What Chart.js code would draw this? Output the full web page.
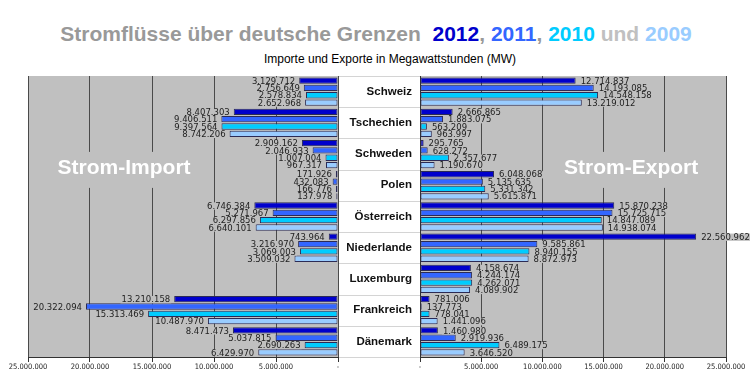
<!DOCTYPE html>
<html lang="de">
<head>
<meta charset="UTF-8">
<title>Stromflüsse über deutsche Grenzen</title>
<script src="https://cdn.jsdelivr.net/npm/chart.js"></script>
<style>
  html, body { margin: 0; padding: 0; background: #fff; overflow: hidden; }
  body { width: 750px; height: 377px; position: relative; font-family: 'Liberation Sans', Arial, sans-serif; }
  #title { position: absolute; left: 0; top: 22px; width: 752px; text-align: center; font-weight: bold;
           font-size: 21px; line-height: 24px; color: #999; white-space: pre; }
  #subtitle { position: absolute; left: 0; top: 52px; width: 780px; text-align: center; font-size: 12px; color: #000; }
  canvas { position: absolute; top: 60px; }
  #importChart { left: 0; }
  #exportChart { left: 338px; }
</style>
</head>
<body>
<div id="title">Stromflüsse über deutsche Grenzen  <span style="color:#0000cc">2012</span>, <span style="color:#3366ff">2011</span>, <span style="color:#00ccff">2010</span> <span style="color:#c0c0c0">und</span> <span style="color:#99ccff">2009</span></div>
<div id="subtitle">Importe und Exporte in Megawattstunden (MW)</div>
<canvas id="importChart" width="341" height="317"></canvas>
<canvas id="exportChart" width="412" height="317"></canvas>

<script>
const countries = ['Schweiz', 'Tschechien', 'Schweden', 'Polen', 'Österreich', 'Niederlande', 'Luxemburg', 'Frankreich', 'Dänemark'];
const years = ['2012', '2011', '2010', '2009'];
const yearColors = ['#0000cc', '#3366ff', '#00ccff', '#99ccff'];

// Strom-Import (MWh)
const import2012 = [3129712, 8407303, 2909162, 171926, 6746384, 743964, 0, 13210158, 8471473];
const import2011 = [2756649, 9406511, 2046933, 432083, 5271967, 3216970, 0, 20322094, 5037815];
const import2010 = [2578834, 9397564, 1007004, 166776, 6297856, 3069003, 0, 15313469, 2690263];
const import2009 = [2652968, 8742206, 967317, 137978, 6640101, 3509032, 0, 10487970, 6429970];

// Strom-Export (MWh)
const export2012 = [12714837, 2666865, 295765, 6048068, 15870238, 22560962, 4158674, 781006, 1460980];
const export2011 = [14193085, 1883075, 628272, 5135635, 15725715, 9585861, 4244174, 137773, 2919936];
const export2010 = [14548158, 563209, 2357677, 5331342, 14847089, 8940155, 4262071, 778041, 6489175];
const export2009 = [13219012, 963997, 1190670, 5615871, 14938074, 8872973, 4089902, 1441096, 3646520];

const axisMax = 25000000;
const axisStep = 5000000;

function fmt(v) {
  if (v === 0) return '-';
  return String(v).replace(/\B(?=(\d{3})+(?!\d))/g, '.');
}

function makeDatasets(series) {
  return series.map((data, i) => ({
    label: years[i],
    data: data,
    backgroundColor: yearColors[i],
    borderColor: '#2b2b55',
    borderWidth: 1,
    borderSkipped: false,
    categoryPercentage: 0.94,
    barPercentage: 0.86
  }));
}

// grey plot background
const plotBackground = {
  id: 'plotBackground',
  beforeDraw(chart) {
    const a = chart.chartArea, ctx = chart.ctx;
    ctx.save();
    ctx.fillStyle = '#c0c0c0';
    ctx.fillRect(a.left, a.top, a.right - a.left, a.bottom - a.top);
    ctx.restore();
  }
};

// big white caption inside the plot
const sideCaption = {
  id: 'sideCaption',
  beforeDatasetsDraw(chart, args, opts) {
    const a = chart.chartArea, ctx = chart.ctx;
    const cx = a.left + (a.right - a.left) * opts.fx;
    const cy = a.top + (a.bottom - a.top) * 0.327;
    ctx.save();
    ctx.font = "bold 21px 'Liberation Sans', Arial, sans-serif";
    const w = ctx.measureText(opts.text).width;
    ctx.fillStyle = '#c0c0c0';
    ctx.fillRect(cx - w / 2 - 6, cy - 16, w + 12, 36);
    ctx.fillStyle = '#fff';
    ctx.textAlign = 'center';
    ctx.textBaseline = 'middle';
    ctx.fillText(opts.text, cx, cy);
    ctx.restore();
  }
};

// value labels next to the bar ends
const valueLabels = {
  id: 'valueLabels',
  afterDatasetsDraw(chart, args, opts) {
    const ctx = chart.ctx;
    ctx.save();
    ctx.font = "8.5px 'DejaVu Sans', Verdana, sans-serif";
    ctx.textBaseline = 'middle';
    ctx.textAlign = 'left';
    chart.data.datasets.forEach((ds, i) => {
      chart.getDatasetMeta(i).data.forEach((bar, j) => {
        const v = ds.data[j];
        if (!v) return;
        const text = fmt(v);
        const w = ctx.measureText(text).width;
        const h = bar.height;
        const x = opts.side === 'left' ? bar.x - 4 - w : bar.x + 5;
        ctx.fillStyle = '#c0c0c0';
        ctx.fillRect(x - 1, bar.y - h / 2, w + 2, h + 1);
        ctx.fillStyle = '#222';
        ctx.fillText(text, x, bar.y + 1);
      });
    });
    ctx.restore();
  }
};

// row separators in the country column
const rowLines = {
  id: 'rowLines',
  beforeDraw(chart) {
    const y = chart.scales.y, ctx = chart.ctx;
    const band = (y.bottom - y.top) / countries.length;
    ctx.save();
    ctx.strokeStyle = '#d4d4d4';
    ctx.lineWidth = 1;
    for (let i = 0; i <= countries.length; i++) {
      const py = Math.round(y.top + i * band) + 0.5;
      ctx.beginPath();
      ctx.moveTo(1, py);
      ctx.lineTo(chart.chartArea.left, py);
      ctx.stroke();
    }
    ctx.restore();
  }
};

function xAxis(reverse) {
  return {
    type: 'linear',
    min: 0,
    max: axisMax,
    reverse: reverse,
    afterFit(scale) { scale.height = 20; },
    grid: { color: '#4a4a4a', lineWidth: 1, drawTicks: true, tickLength: 5, tickColor: '#333' },
    border: { color: '#333' },
    ticks: {
      stepSize: axisStep,
      autoSkip: false,
      maxRotation: 0,
      padding: 1,
      color: '#222',
      font: { family: "'DejaVu Sans Condensed', 'DejaVu Sans', sans-serif", size: 7.5 },
      callback: v => fmt(v)
    }
  };
}

const common = {
  indexAxis: 'y',
  responsive: false,
  animation: false,
  devicePixelRatio: 1,
  events: []
};

new Chart(document.getElementById('importChart'), {
  type: 'bar',
  data: {
    labels: countries,
    datasets: makeDatasets([import2012, import2011, import2010, import2009])
  },
  options: Object.assign({}, common, {
    layout: { padding: { left: 28, right: 3, top: 16, bottom: 0 } },
    scales: {
      x: xAxis(true),
      y: { display: false }
    },
    plugins: {
      legend: { display: false },
      tooltip: { enabled: false },
      sideCaption: { text: 'Strom-Import', fx: 0.31 },
      valueLabels: { side: 'left' }
    }
  }),
  plugins: [plotBackground, sideCaption, valueLabels]
});

new Chart(document.getElementById('exportChart'), {
  type: 'bar',
  data: {
    labels: countries,
    datasets: makeDatasets([export2012, export2011, export2010, export2009])
  },
  options: Object.assign({}, common, {
    layout: { padding: { left: 0, right: 24, top: 16, bottom: 0 } },
    scales: {
      x: xAxis(false),
      y: {
        afterFit(scale) { scale.width = 82; },
        grid: { display: false, drawTicks: false },
        border: { color: '#333' },
        ticks: {
          padding: 8,
          color: '#111',
          font: { family: "'Liberation Sans', Arial, sans-serif", size: 11.5, weight: 'bold' }
        }
      }
    },
    plugins: {
      legend: { display: false },
      tooltip: { enabled: false },
      sideCaption: { text: 'Strom-Export', fx: 0.69 },
      valueLabels: { side: 'right' }
    }
  }),
  plugins: [plotBackground, rowLines, sideCaption, valueLabels]
});
</script>
</body>
</html>
